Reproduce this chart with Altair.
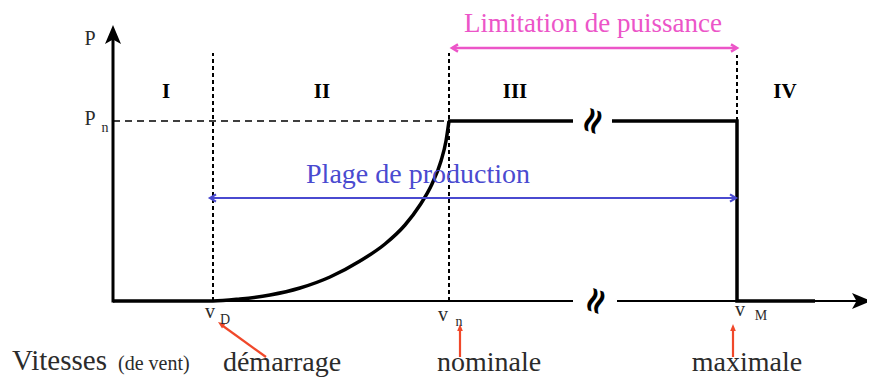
import altair as alt
import pandas as pd

# ---- diagram values (horizontal: wind speed position, vertical: power above the speed axis) ----
V_AXIS = 113          # origin of the speed axis
V_D = 213             # v_D : cut-in speed (démarrage)
V_N = 449             # v_n : nominal speed
V_M = 737             # v_M : cut-out speed (maximale)
V_ZERO_END = 815      # end of the zero-power segment after v_M
V_TIP = 871           # tip of the speed axis arrow
AXIS_BREAK = [573, 617]
PN_BREAK = [573, 612]
P_N = 180             # nominal power P_n
P_TIP = 276           # tip of the power axis arrow
P_GUIDE = 248         # top of the dotted region separators
P_LIMIT = 253         # level of the "Limitation de puissance" arrow
P_PROD = 103          # level of the "Plage de production" arrow

# power curve between v_D and v_n
curve_v = [213, 240, 270, 300, 330, 360, 385, 405, 420, 432, 441, 446, 449]
curve_p = [0, 2, 6, 13, 24, 40, 57, 76, 96, 117, 140, 160, 180]

regions = ["I", "II", "III", "IV"]
region_v = [166, 322, 515, 785]

bottom_words = ["démarrage", "nominale", "maximale"]
bottom_v = [282, 489, 747]

X_DOM = [8, 867]
Y_DOM = [-77, 293]
W, H = 859, 370

PINK = "#ec55c8"
BLUE = "#4a4ad0"
RED = "#f0482a"
INK = "#2b2b2b"


def xs(field="x"):
    return alt.X(f"{field}:Q", scale=alt.Scale(domain=X_DOM, nice=False, zero=False), axis=None)


def ys(field="y"):
    return alt.Y(f"{field}:Q", scale=alt.Scale(domain=Y_DOM, nice=False, zero=False), axis=None)


def rules(rows, width, color="black", dash=None):
    df = pd.DataFrame(rows, columns=["x", "y", "x2", "y2"])
    kw = dict(strokeWidth=width, color=color, strokeCap="butt")
    if dash:
        kw["strokeDash"] = dash
    return alt.Chart(df).mark_rule(**kw).encode(
        x=xs(), y=ys(), x2=alt.X2("x2:Q"), y2=alt.Y2("y2:Q"))


def texts(rows, size, color=INK, weight="normal", align="center", angle=0,
          font="Liberation Serif", baseline="alphabetic"):
    df = pd.DataFrame(rows, columns=["x", "y", "t"])
    kw = dict(align=align, baseline=baseline, font=font, fontSize=size,
              fontWeight=weight, color=color)
    if angle:
        kw["angle"] = angle
    return alt.Chart(df).mark_text(**kw).encode(x=xs(), y=ys(), text="t:N")


def heads(rows, shape, size, color, filled=True, width=1.0):
    df = pd.DataFrame(rows, columns=["x", "y", "a"])
    return alt.Chart(df).mark_point(shape=shape, size=size, filled=filled, opacity=1,
                                    color=color, strokeWidth=width,
                                    strokeJoin="miter").encode(
        x=xs(), y=ys(), angle=alt.Angle("a:Q", scale=None))


# ---- power curve ----
rise_df = pd.DataFrame({"x": [V_AXIS] + curve_v, "y": [0] + curve_p})
rise = alt.Chart(rise_df).mark_line(color="black", strokeWidth=3.5, interpolate="monotone",
                                    strokeCap="butt").encode(x=xs(), y=ys(), order="x:Q")
flat_v = [V_N - 1, PN_BREAK[0], PN_BREAK[1], V_M, V_M, V_ZERO_END]
flat_p = [P_N, P_N, P_N, P_N, 0, 0]
flat_df = pd.DataFrame({"x": flat_v, "y": flat_p, "seg": ["a", "a", "b", "b", "b", "b"],
                        "o": list(range(len(flat_v)))})
flat = alt.Chart(flat_df).mark_line(color="black", strokeWidth=3.5,
                                    strokeJoin="miter", strokeCap="butt").encode(
    x=xs(), y=ys(), detail="seg:N", order="o:Q")

# ---- axes ----
axis_x = rules([(V_AXIS, 0, AXIS_BREAK[0], 0), (AXIS_BREAK[1], 0, V_TIP - 12, 0)], 2)
axis_y = rules([(V_AXIS, -1.5, V_AXIS, P_TIP - 12)], 3)
ARROW = "M0,-1 L0.8,0.9 L0,0.45 L-0.8,0.9 Z"
axis_heads = heads([(V_AXIS, P_TIP - 10, 0), (V_TIP - 10, 0, 90)], ARROW, 400, "black")
breaks = texts([(596, 0, "≈"), (593, P_N, "≈")], 36, color="black", weight="bold",
               angle=290, font="DejaVu Serif", baseline="middle")

# ---- guides ----
guides = rules([(V_D, 0, V_D, P_GUIDE), (V_N, 0, V_N, P_GUIDE), (V_M, P_N, V_M, P_GUIDE - 2)],
               2, dash=[4, 3])
pn_line = rules([(V_AXIS, P_N, V_N, P_N)], 1.5, dash=[7, 5])

# ---- range arrows ----
CHEV = "M2,-1.2 L0,0 L2,1.2"
limit_line = rules([(V_N + 4, P_LIMIT, V_M - 1, P_LIMIT)], 2.5, color=PINK)
limit_heads = heads([(V_N + 3, P_LIMIT, 0), (V_M, P_LIMIT, 180)], CHEV, 36, PINK,
                    filled=False, width=2.5)
prod_line = rules([(V_D - 2, P_PROD, V_M - 2, P_PROD)], 2, color=BLUE)
prod_heads = heads([(V_D - 3, P_PROD, 0), (V_M - 1, P_PROD, 180)], CHEV, 36, BLUE,
                   filled=False, width=2.2)

# ---- red pointers ----
TRI = "M0,0 L-0.8,2 L0.8,2 Z"
red_lines = rules([(266, -56, 223, -25), (460, -56, 460, -30), (733, -56, 733, -30)],
                  2.2, color=RED)
red_heads = heads([(218, -21, 306), (460, -23, 0), (733, -23, 0)], TRI, 50, RED)

# ---- labels ----
limit_txt = texts([(593, 269, "Limitation de puissance")], 27, color=PINK)
prod_txt = texts([(418, 118, "Plage de production")], 28, color=BLUE)
roman = texts(list(zip(region_v, [203] * 4, regions)), 21, color="black", weight="bold")
p_lbl = texts([(90, 256, "P"), (90, 176, "P")], 20, color=INK)
pn_sub = texts([(105, 169, "n")], 14, color=INK)
v_lbl = texts([(210, -17, "v"), (443, -20, "v"), (740, -15, "v")], 20, color=INK)
v_sub = texts([(225, -23, "D"), (459, -25, "n"), (761, -19, "M")], 14, color=INK)
vit = texts([(12, -69, "Vitesses")], 29, color=INK, align="left")
devent = texts([(118, -69, "(de vent)")], 20, color=INK, align="left")
words = texts(list(zip(bottom_v, [-70] * 3, bottom_words)), 28, color=INK)

chart = alt.layer(
    pn_line, guides, axis_x, axis_y, axis_heads, rise, flat, breaks,
    limit_line, limit_heads, prod_line, prod_heads, red_lines, red_heads,
    limit_txt, prod_txt, roman, p_lbl, pn_sub, v_lbl, v_sub, vit, devent, words,
).properties(
    width=W, height=H, padding=0, autosize=alt.AutoSizeParams(type="none"),
    background="white",
).configure_view(stroke=None)

chart.save("out.html", embed_options={"renderer": "svg", "actions": False})
